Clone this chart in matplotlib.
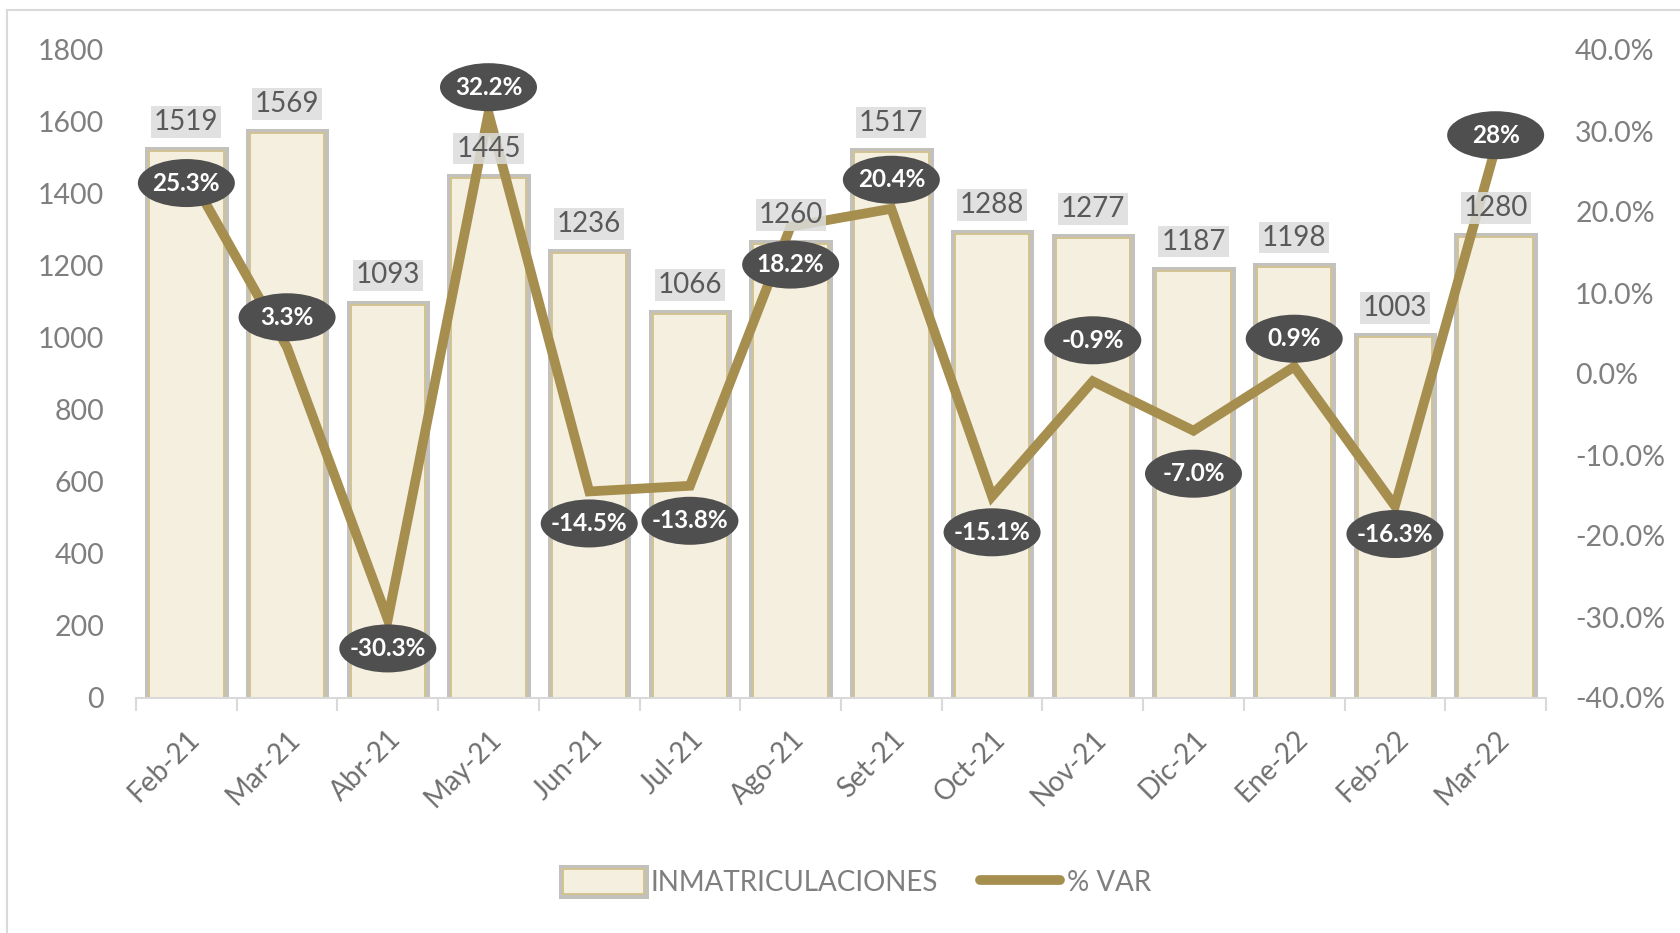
import numpy as np
import matplotlib
matplotlib.use('Agg')
import matplotlib.pyplot as plt
import matplotlib.patheffects as pe
import matplotlib.transforms as mtransforms
from matplotlib.patches import Ellipse, Patch
from matplotlib.lines import Line2D
from matplotlib.ticker import FuncFormatter

# ============================================================
# DATA
# ============================================================
months = ["Feb-21", "Mar-21", "Abr-21", "May-21", "Jun-21", "Jul-21", "Ago-21",
          "Set-21", "Oct-21", "Nov-21", "Dic-21", "Ene-22", "Feb-22", "Mar-22"]
inmatriculaciones = [1519, 1569, 1093, 1445, 1236, 1066, 1260,
                     1517, 1288, 1277, 1187, 1198, 1003, 1280]
var_pct = [25.3, 3.3, -30.3, 32.2, -14.5, -13.8, 18.2,
           20.4, -15.1, -0.9, -7.0, 0.9, -16.3, 28.0]
var_labels = ["25.3%", "3.3%", "-30.3%", "32.2%", "-14.5%", "-13.8%", "18.2%",
              "20.4%", "-15.1%", "-0.9%", "-7.0%", "0.9%", "-16.3%", "28%"]

# label placement (pixels from the point, + is up)
lbl_dy = [-14, 30, -29, 26, -32, -35, -38, 29, -36, 41, -43, 28, -28, 12]

# ============================================================
# STYLE
# ============================================================
plt.rcParams['font.family'] = ['Lato', 'DejaVu Sans']
BAR_FILL = '#F5EFDF'
BAR_GRAY = '#C3C1BD'
BAR_TAN = '#D3C391'
LINE_COL = '#A68E4E'
BUBBLE = '#4F4F4F'
AXIS_GRAY = '#D9D9D9'

fig = plt.figure(figsize=(16.81, 9.33), dpi=100)
ax = fig.add_axes([136 / 1681, 1 - 698 / 933, (1546 - 136) / 1681, (698 - 50) / 933])
ax2 = ax.twinx()

x = np.arange(len(months))
bar_fx = [pe.Stroke(linewidth=6.5, foreground=BAR_GRAY), pe.Normal()]
ax.bar(x, inmatriculaciones, width=0.74, color=BAR_FILL, edgecolor=BAR_TAN,
       linewidth=1.4, path_effects=bar_fx, zorder=2)

ax.set_xlim(-0.5, len(months) - 0.5)
ax.set_ylim(0, 1800)
ax.set_yticks(np.arange(0, 1801, 200))
ax2.set_ylim(-40, 40)
ax2.set_yticks(np.arange(-40, 41, 10))
ax2.yaxis.set_major_formatter(FuncFormatter(lambda v, p: f"{v:.1f}%"))

for a in (ax, ax2):
    for s in ('top', 'left', 'right'):
        a.spines[s].set_visible(False)
ax2.spines['bottom'].set_visible(False)
ax.spines['bottom'].set_color(AXIS_GRAY)
ax.spines['bottom'].set_linewidth(1.5)

ax.set_xticks(x)
ax.set_xticklabels(months, rotation=45, ha='right', rotation_mode='anchor')
ax.set_xticks(np.arange(-0.5, len(months), 1), minor=True)
ax.tick_params(axis='x', which='major', length=0, pad=20, labelsize=20, labelcolor='#6F6F6F')
ax.tick_params(axis='x', which='minor', length=9, width=1.5, color=AXIS_GRAY)
ax.tick_params(axis='y', length=0, pad=23, labelsize=20.5, labelcolor='#7F7F7F')
ax2.tick_params(axis='y', length=0, pad=21, labelsize=20.5, labelcolor='#7F7F7F')

# line on secondary axis
ax2.plot(x, var_pct, color=LINE_COL, linewidth=7, solid_joinstyle='miter',
         solid_capstyle='butt', zorder=3)

# bar value labels (drawn on ax2 so they sit above the line)
for xi, v in zip(x, inmatriculaciones):
    ax2.annotate(str(v), xy=(xi, v), xycoords=ax.transData, xytext=(0, 21),
                 textcoords='offset points', ha='center', va='center',
                 fontsize=20, color='#595959', zorder=4,
                 bbox=dict(boxstyle='square,pad=0.1', fc='#DCDCDC', ec='none', alpha=0.85))

# % labels in dark ellipses
for xi, v, lab, dy in zip(x, var_pct, var_labels, lbl_dy):
    tr = fig.dpi_scale_trans + mtransforms.ScaledTranslation(xi, v, ax2.transData)
    ax2.add_artist(Ellipse((0, dy / 100), 0.97, 0.48, transform=tr,
                           facecolor=BUBBLE, edgecolor='none', zorder=5))
    ax2.annotate(lab, xy=(xi, v), xytext=(0, dy * 0.72), textcoords='offset points',
                 ha='center', va='center', fontsize=17.5, fontweight='bold',
                 color='white', zorder=6)

# legend
h_bar = Patch(facecolor=BAR_FILL, edgecolor=BAR_TAN, linewidth=1.4, path_effects=bar_fx)
h_line = Line2D([0], [0], color=LINE_COL, linewidth=7, solid_capstyle='round')
fig.legend([h_bar, h_line], ["INMATRICULACIONES", "% VAR"], loc='center',
           bbox_to_anchor=(0.51, 0.054), ncol=2, frameon=False, fontsize=20,
           labelcolor='#7F7F7F', handlelength=2.9, handleheight=1.0,
           handletextpad=0.25, columnspacing=1.5)

# outer chart frame
fig.add_artist(Line2D([7 / 1681, 7 / 1681], [0, 1 - 10 / 933], color=AXIS_GRAY, lw=1.5))
fig.add_artist(Line2D([7 / 1681, 1], [1 - 10 / 933, 1 - 10 / 933], color=AXIS_GRAY, lw=1.5))

fig.savefig('out.png', dpi=100)
